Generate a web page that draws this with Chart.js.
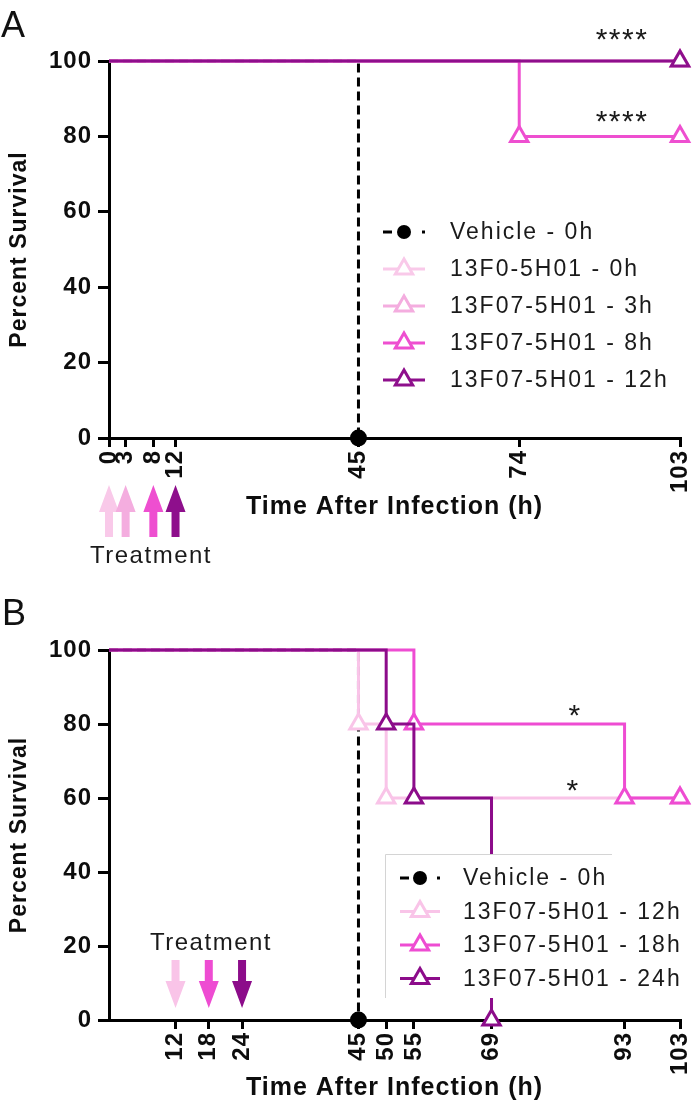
<!DOCTYPE html>
<html>
<head>
<meta charset="utf-8">
<script src="https://cdn.jsdelivr.net/npm/chart.js@4/dist/chart.umd.min.js"></script>
<style>
  html, body { margin: 0; padding: 0; background: #fff; }
  #wrap { position: relative; width: 693px; height: 1105px; }
  canvas { position: absolute; left: 0; }
</style>
</head>
<body>
<div id="wrap">
  <canvas id="cA" width="693" height="575" style="top:0"></canvas>
  <canvas id="cB" width="693" height="530" style="top:575px"></canvas>
</div>
<script>
// ---------------- DATA ----------------
const yTicks = [0, 20, 40, 60, 80, 100];
const xTicksA = [0, 3, 8, 12, 45, 74, 103];
const xTicksB = [12, 18, 24, 45, 50, 55, 69, 93, 103];

// Panel A: time after infection (h) / percent survival at Kaplan-Meier event points
const labelsA = ['Vehicle - 0h', '13F0-5H01 - 0h', '13F07-5H01 - 3h', '13F07-5H01 - 8h', '13F07-5H01 - 12h'];
const vehA_t = [0, 45];        const vehA_s = [100, 0];
const a0h_t  = [0, 103];       const a0h_s  = [100, 100];
const a3h_t  = [0, 103];       const a3h_s  = [100, 100];
const a8h_t  = [0, 74, 103];   const a8h_s  = [100, 80, 80];
const a12h_t = [0, 103];       const a12h_s = [100, 100];
const treatA = [0, 3, 8, 12];
const starsA = ['****', '****'];

// Panel B
const labelsB = ['Vehicle - 0h', '13F07-5H01 - 12h', '13F07-5H01 - 18h', '13F07-5H01 - 24h'];
const vehB_t = [0, 45];             const vehB_s = [100, 0];
const b12h_t = [0, 45, 50, 103];    const b12h_s = [100, 80, 60, 60];
const b18h_t = [0, 55, 93, 103];    const b18h_s = [100, 80, 60, 60];
const b24h_t = [0, 50, 55, 69];     const b24h_s = [100, 80, 60, 0];
const treatB = [12, 18, 24];
const starsB = ['*', '*'];

// ---------------- STYLE ----------------
const FONT = '"Liberation Sans", Arial, Helvetica, sans-serif';
const colA = ['#000000', '#f9c9e9', '#f4addf', '#ee4fd0', '#8e0f8c'];
const colB = ['#000000', '#f9c4e8', '#ee4cd2', '#8c0c8a'];

const pts = (t, s) => t.map((v, i) => ({ x: v, y: s[i] }));

function tri(ctx, x, y, r) {
  ctx.beginPath();
  ctx.moveTo(x, y - r);
  ctx.lineTo(x + r * Math.sin(2 * Math.PI / 3), y - r * Math.cos(2 * Math.PI / 3));
  ctx.lineTo(x + r * Math.sin(4 * Math.PI / 3), y - r * Math.cos(4 * Math.PI / 3));
  ctx.closePath();
}
function arrow(ctx, x, yTail, yTip, headLen, headW, shaftW, color) {
  const dir = Math.sign(yTip - yTail);
  const yb = yTip - dir * headLen;
  ctx.fillStyle = color;
  ctx.beginPath();
  ctx.moveTo(x - shaftW / 2, yTail);
  ctx.lineTo(x + shaftW / 2, yTail);
  ctx.lineTo(x + shaftW / 2, yb);
  ctx.lineTo(x + headW / 2, yb);
  ctx.lineTo(x, yTip);
  ctx.lineTo(x - headW / 2, yb);
  ctx.lineTo(x - shaftW / 2, yb);
  ctx.closePath();
  ctx.fill();
}

const annot = {
  id: 'annot',
  beforeDraw(chart) { chart.ctx.letterSpacing = '1px'; },
  afterDatasetsDraw(chart, args, o) {
    const ctx = chart.ctx;
    ctx.save();
    // legend
    const L = o.legend;
    if (L.box) {
      ctx.fillStyle = '#fff';
      ctx.fillRect(L.box.x, L.box.y, L.box.w, L.box.h);
      ctx.strokeStyle = '#d4d4d4';
      ctx.lineWidth = 1;
      ctx.beginPath();
      ctx.moveTo(L.box.x + 0.5, L.box.y + L.box.h);
      ctx.lineTo(L.box.x + 0.5, L.box.y + 0.5);
      ctx.lineTo(L.box.x + L.box.topW, L.box.y + 0.5);
      ctx.stroke();
    }
    L.labels.forEach((lab, i) => {
      const y = L.y0 + i * L.dy;
      const c = L.colors[i];
      const xm = (L.x0 + L.x1) / 2;
      ctx.setLineDash([]);
      if (i === 0) {
        ctx.strokeStyle = '#000'; ctx.lineWidth = 3;
        ctx.beginPath(); ctx.moveTo(L.x0, y); ctx.lineTo(L.x0 + 9, y); ctx.stroke();
        ctx.beginPath(); ctx.moveTo(L.x1 - 3, y); ctx.lineTo(L.x1, y); ctx.stroke();
        ctx.fillStyle = '#000';
        ctx.beginPath(); ctx.arc(xm, y, 7, 0, Math.PI * 2); ctx.fill();
      } else {
        ctx.strokeStyle = c; ctx.lineWidth = 3;
        ctx.beginPath(); ctx.moveTo(L.x0, y); ctx.lineTo(L.x1, y); ctx.stroke();
        tri(ctx, xm, y, 10);
        ctx.fillStyle = '#fff'; ctx.fill();
        ctx.stroke();
      }
      ctx.fillStyle = '#1a1a1a';
      ctx.font = '23px ' + FONT;
      ctx.letterSpacing = '2px';
      ctx.textAlign = 'left';
      ctx.textBaseline = 'middle';
      ctx.fillText(lab, L.textX, y + 1);
    });
    // significance stars
    ctx.font = '30px ' + FONT;
    ctx.letterSpacing = '1.5px';
    ctx.textAlign = 'center';
    ctx.textBaseline = 'alphabetic';
    ctx.fillStyle = '#1a1a1a';
    o.stars.forEach(s => ctx.fillText(s.text, s.x, s.y + 17));
    ctx.restore();
  },
  afterDraw(chart, args, o) {
    const ctx = chart.ctx;
    const xs = chart.scales.x;
    ctx.save();
    // panel letter
    ctx.font = '36px ' + FONT;
    ctx.letterSpacing = '0px';
    ctx.fillStyle = '#111';
    ctx.textAlign = 'left';
    ctx.textBaseline = 'alphabetic';
    ctx.fillText(o.letter.text, o.letter.x, o.letter.y);
    // treatment arrows
    const A = o.arrows;
    A.values.forEach((v, i) => {
      arrow(ctx, xs.getPixelForValue(v), A.tailY, A.tipY, 27, 20, 8, A.colors[i]);
    });
    ctx.font = '24px ' + FONT;
    ctx.letterSpacing = '1.5px';
    ctx.fillStyle = '#1a1a1a';
    ctx.textAlign = 'center';
    ctx.textBaseline = 'middle';
    ctx.fillText('Treatment', o.treat.x, o.treat.y);
    ctx.restore();
  }
};

function lineDs(label, data, color, order, isVeh) {
  return {
    label, data,
    borderColor: color,
    backgroundColor: isVeh ? '#000' : '#fff',
    pointBorderColor: color,
    pointBackgroundColor: isVeh ? '#000' : '#fff',
    borderWidth: 3,
    pointBorderWidth: 3,
    pointStyle: isVeh ? 'circle' : 'triangle',
    pointRadius: c => (c.raw && c.raw.x === 0) ? 0 : (isVeh ? 7 : 10),
    pointHoverRadius: c => (c.raw && c.raw.x === 0) ? 0 : (isVeh ? 7 : 10),
    borderDash: isVeh ? [9, 5] : [],
    stepped: 'before',
    fill: false,
    clip: false,
    order
  };
}

function makeOptions(xTicks, xScaleHeight, titleBottomPad, topPad, annotOpts) {
  const tickFont = { family: FONT, size: 24, weight: 'bold' };
  return {
    responsive: false,
    animation: false,
    events: [],
    layout: { padding: { left: 0, right: 11, top: topPad, bottom: 0 } },
    plugins: { legend: { display: false }, tooltip: { enabled: false }, annot: annotOpts },
    scales: {
      x: {
        type: 'linear', min: 0, max: 103,
        afterBuildTicks: s => { s.ticks = xTicks.map(v => ({ value: v })); },
        afterFit: s => { s.height = xScaleHeight; s.paddingLeft = 0; s.paddingRight = 0; },
        ticks: { autoSkip: false, minRotation: 90, maxRotation: 90, padding: 3, color: '#0d0d0d', font: tickFont },
        grid: { drawOnChartArea: false, drawTicks: true, tickLength: 9, tickWidth: 3, lineWidth: 3, color: '#000', tickColor: '#000' },
        border: { display: true, width: 3, color: '#000' },
        title: { display: true, text: 'Time After Infection (h)', color: '#0d0d0d',
                 font: { family: FONT, size: 25, weight: 'bold' }, padding: { top: 0, bottom: titleBottomPad } }
      },
      y: {
        type: 'linear', min: 0, max: 100,
        afterBuildTicks: s => { s.ticks = yTicks.map(v => ({ value: v })); },
        afterFit: s => { s.width = 109; s.paddingTop = 0; s.paddingBottom = 0; },
        ticks: { padding: 6, color: '#0d0d0d', font: tickFont },
        grid: { drawOnChartArea: false, drawTicks: true, tickLength: 11, tickWidth: 3, lineWidth: 3, color: '#000', tickColor: '#000' },
        border: { display: true, width: 3, color: '#000' },
        title: { display: true, text: 'Percent Survival', color: '#0d0d0d',
                 font: { family: FONT, size: 23, weight: 'bold' }, padding: { top: 6, bottom: 0 } }
      }
    }
  };
}

// ---------------- PANEL A ----------------
new Chart(document.getElementById('cA'), {
  type: 'line',
  data: {
    datasets: [
      lineDs(labelsA[4], pts(a12h_t, a12h_s), colA[4], 0, false),
      lineDs(labelsA[3], pts(a8h_t, a8h_s), colA[3], 1, false),
      lineDs(labelsA[2], pts(a3h_t, a3h_s), colA[2], 2, false),
      lineDs(labelsA[1], pts(a0h_t, a0h_s), colA[1], 3, false),
      lineDs(labelsA[0], pts(vehA_t, vehA_s), colA[0], 4, true)
    ]
  },
  options: makeOptions(xTicksA, 137, 53, 61, {
    letter: { text: 'A', x: 1, y: 37 },
    legend: { labels: labelsA, colors: colA, x0: 383, x1: 425, textX: 450, y0: 232, dy: 37, box: null },
    stars: [{ text: starsA[0], x: 622, y: 32 }, { text: starsA[1], x: 622, y: 114 }],
    arrows: { values: treatA, colors: colA.slice(1), tailY: 537, tipY: 485 },
    treat: { x: 151, y: 556 }
  }),
  plugins: [annot]
});

// ---------------- PANEL B ----------------
new Chart(document.getElementById('cB'), {
  type: 'line',
  data: {
    datasets: [
      lineDs(labelsB[3], pts(b24h_t, b24h_s), colB[3], 0, false),
      lineDs(labelsB[2], pts(b18h_t, b18h_s), colB[2], 1, false),
      lineDs(labelsB[1], pts(b12h_t, b12h_s), colB[1], 2, false),
      lineDs(labelsB[0], pts(vehB_t, vehB_s), colB[0], 3, true)
    ]
  },
  options: makeOptions(xTicksB, 85, 2, 75, {
    letter: { text: 'B', x: 2, y: 50 },
    legend: { labels: labelsB, colors: colB, x0: 400, x1: 440, textX: 463, y0: 303, dy: 33.5,
              box: { x: 385, y: 279, w: 300, h: 144, topW: 227 } },
    stars: [{ text: starsB[0], x: 575, y: 133 }, { text: starsB[1], x: 573, y: 208 }],
    arrows: { values: treatB, colors: colB.slice(1), tailY: 385, tipY: 433 },
    treat: { x: 211, y: 368 }
  }),
  plugins: [annot]
});
</script>
</body>
</html>
